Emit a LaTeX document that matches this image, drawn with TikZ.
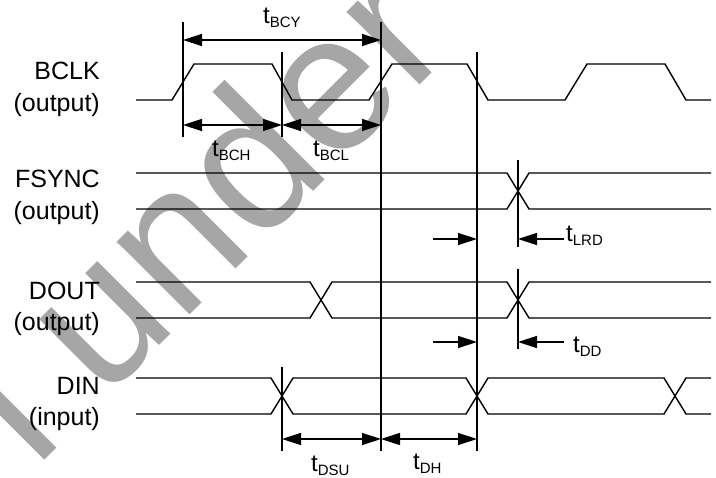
\documentclass[tikz,border=0pt]{standalone}
\usepackage{fontspec}
\setmainfont{Liberation Sans}
\usetikzlibrary{arrows.meta}

\definecolor{wmgray}{RGB}{166,166,166}
\newcommand{\tname}[1]{{\fontsize{24}{24}\selectfont t}\raisebox{-4pt}{\fontsize{15}{15}\selectfont #1}}

\tikzset{
  wave/.style={line width=1.4pt, line join=miter},
  marker/.style={line width=1.4pt},
  dimarrow/.style={line width=1.4pt, {Triangle[length=19pt,width=12pt]}-{Triangle[length=19pt,width=12pt]}},
  onearrow/.style={line width=1.4pt, -{Triangle[length=19pt,width=12pt]}},
  sig/.style={anchor=base east, inner sep=0pt, font=\fontsize{25}{25}\selectfont},
  tlab/.style={anchor=base west, inner sep=0pt}
}

\begin{document}
\begin{tikzpicture}[x=1pt,y=-1pt]

  \useasboundingbox (0,0) rectangle (716,478);

  % watermark
  \begin{scope}
    \clip (0,0) rectangle (716,478);
    \node[wmgray, rotate=45, anchor=base west, inner sep=0pt,
      font=\fontsize{195}{195}\selectfont] (wm) at (35,470) {l under};
  \end{scope}

  % signal names
  \node[sig] (bclk) at (100,80) {BCLK};
  \node[sig] (bclko) at (100,112) {(output)};
  \node[sig] (fsync) at (100,188) {FSYNC};
  \node[sig] (fsynco) at (100,220) {(output)};
  \node[sig] (dout) at (100,300) {DOUT};
  \node[sig] (douto) at (100,331) {(output)};
  \node[sig] (din) at (100,395) {DIN};
  \node[sig] (dini) at (100,426) {(input)};

  % waveforms
  \draw[wave] (136,100) -- (172,100) -- (194,64) -- (272,64) -- (292,100)
    -- (369,100) -- (392,64) -- (467,64) -- (488,100) -- (565,100)
    -- (587,64) -- (665,64) -- (686,100) -- (711,100);

  \draw[wave] (136,173) -- (507,173) -- (529,209) -- (711,209);
  \draw[wave] (136,209) -- (507,209) -- (529,173) -- (711,173);

  \draw[wave] (136,282) -- (310,282) -- (332,318) -- (507,318) -- (529,282) -- (711,282);
  \draw[wave] (136,318) -- (310,318) -- (332,282) -- (507,282) -- (529,318) -- (711,318);

  \draw[wave] (136,378) -- (271,378) -- (293,414) -- (466,414) -- (488,378)
    -- (664,378) -- (686,414) -- (711,414);
  \draw[wave] (136,414) -- (271,414) -- (293,378) -- (466,378) -- (488,414)
    -- (664,414) -- (686,378) -- (711,378);

  % reference lines
  \draw[marker] (183,22) -- (183,137);
  \draw[marker] (282,52) -- (282,137);
  \draw[marker] (381,22) -- (381,451);
  \draw[marker] (477,52) -- (477,451);
  \draw[marker] (518,160) -- (518,247);
  \draw[marker] (518,269) -- (518,349);
  \draw[marker] (282,367) -- (282,451);

  % arrow ends
  \coordinate (bcyA) at (183,40);
  \coordinate (bcyB) at (381,40);
  \coordinate (bchA) at (183,125);
  \coordinate (bchB) at (282,125);
  \coordinate (bclB) at (381,125);
  \coordinate (lrdA) at (433,239);
  \coordinate (lrdB) at (477,239);
  \coordinate (lrdC) at (518,239);
  \coordinate (lrdD) at (564,239);
  \coordinate (ddA) at (433,342);
  \coordinate (ddB) at (477,342);
  \coordinate (ddC) at (518,342);
  \coordinate (ddD) at (564,342);
  \coordinate (dsuA) at (282,439);
  \coordinate (dsuB) at (381,439);
  \coordinate (dhB) at (477,439);

  \draw[dimarrow] (bcyA) -- (bcyB);
  \draw[dimarrow] (bchA) -- (bchB);
  \draw[dimarrow] (bchB) -- (bclB);
  \draw[onearrow] (lrdA) -- (lrdB);
  \draw[onearrow] (lrdD) -- (lrdC);
  \draw[onearrow] (ddA) -- (ddB);
  \draw[onearrow] (ddD) -- (ddC);
  \draw[dimarrow] (dsuA) -- (dsuB);
  \draw[dimarrow] (dsuB) -- (dhB);

  % timing names
  \node[tlab] (tbcy) at (263,24) {\tname{BCY}};
  \node[tlab] (tbch) at (212,157) {\tname{BCH}};
  \node[tlab] (tbcl) at (313,157) {\tname{BCL}};
  \node[tlab] (tlrd) at (566,242) {\tname{LRD}};
  \node[tlab] (tdd) at (573,353) {\tname{DD}};
  \node[tlab] (tdsu) at (311,472) {\tname{DSU}};
  \node[tlab] (tdh) at (413,470) {\tname{DH}};

\end{tikzpicture}
\end{document}
